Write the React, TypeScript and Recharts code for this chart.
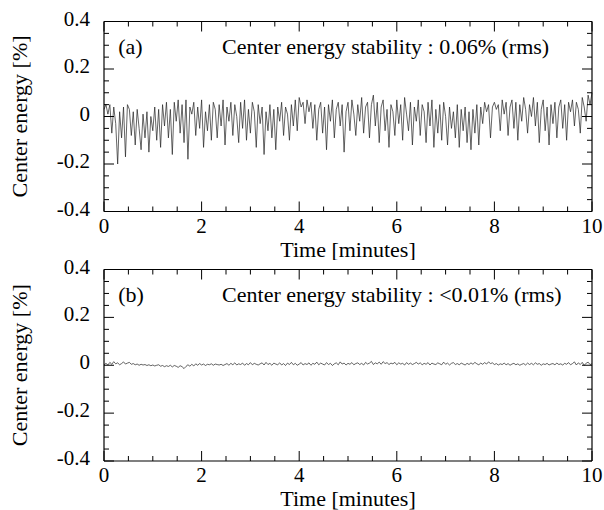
import { LineChart, Line, XAxis, YAxis, ReferenceDot } from "recharts";

const FONT = "'Liberation Serif', 'Times New Roman', serif";
const INK = "#000";
const TRACE = "#222";

// samples every 0.04 min (2.4 s), 0 .. 10 min
const STEP = 0.04;

const TOP_VALUES = [
  0.03, 0.05, 0.01, 0.05, -0.07, 0.04, -0.03, -0.2, 0.02, -0.09,
  0.04, -0.17, 0.05, 0.03, -0.08, 0.02, -0.12, 0.03, -0.05, -0.14,
  0.01, -0.09, 0.02, -0.15, 0.0, -0.06, 0.04, -0.1, 0.03, -0.13,
  0.05, -0.04, 0.06, -0.09, 0.03, -0.16, 0.06, -0.02, 0.07, -0.07,
  0.05, -0.11, 0.07, -0.18, 0.04, 0.01, 0.06, -0.08, 0.04, -0.05,
  0.07, -0.13, 0.02, -0.06, 0.05, -0.1, 0.06, 0.03, -0.09, 0.05,
  -0.04, 0.07, -0.12, 0.04, -0.02, 0.06, -0.08, 0.05, 0.0, -0.11,
  0.06, -0.05, 0.07, -0.1, 0.03, -0.07, 0.06, 0.02, -0.13, 0.05,
  -0.03, 0.04, -0.16, 0.02, -0.06, 0.05, -0.09, 0.03, -0.14, 0.04,
  -0.02, 0.06, -0.08, 0.04, 0.01, -0.1, 0.05, -0.04, 0.07, -0.06,
  0.08, 0.04, 0.06, -0.03, 0.07, 0.02, 0.06, -0.05, 0.05, -0.1,
  0.03, 0.06, -0.07, 0.04, -0.14, 0.05, -0.02, 0.07, -0.09, 0.03,
  0.06, -0.04, 0.05, -0.15, 0.02, 0.06, -0.06, 0.07, 0.01, -0.08,
  0.05, -0.02, 0.08, -0.07, 0.04, 0.06, -0.09, 0.05, 0.09, -0.04,
  0.06, -0.11, 0.04, 0.07, -0.06, 0.03, -0.13, 0.05, 0.02, -0.08,
  0.07, -0.03, 0.05, -0.1, 0.08, 0.01, -0.06, 0.06, -0.12, 0.04,
  -0.02, 0.07, -0.08, 0.05, 0.02, -0.11, 0.06, -0.04, 0.07, -0.13,
  0.03, -0.07, 0.05, -0.1, 0.06, 0.0, -0.12, 0.04, -0.05, 0.02,
  -0.09, 0.05, -0.13, 0.03, -0.06, 0.04, -0.11, 0.02, -0.14, 0.03,
  -0.07, 0.05, -0.12, 0.04, -0.03, 0.06, 0.02, 0.05, -0.09, 0.04,
  0.06, 0.03, 0.05, -0.06, 0.07, 0.01, 0.06, -0.08, 0.04, 0.07,
  -0.05, 0.06, -0.1, 0.05, -0.02, 0.08, 0.03, -0.07, 0.05, 0.0,
  0.08, -0.04, 0.06, -0.11, 0.03, 0.07, -0.06, 0.04, -0.12, 0.05,
  -0.03, 0.06, -0.09, 0.04, 0.07, -0.05, 0.05, -0.1, 0.06, 0.02,
  0.07, -0.04, 0.06, 0.03, -0.07, 0.08, 0.04, -0.02, 0.09, 0.05, 0.1,
];

const BOTTOM_VALUES = [
  0.002, 0.008, 0.001, 0.012, 0.004, 0.015, 0.006, 0.01, 0.002, 0.007,
  0.014, 0.005, 0.009, 0.012, 0.004, 0.007, 0.002, 0.005, 0.0, 0.004,
  0.001, 0.003, -0.001, 0.002, -0.002, 0.001, -0.003, 0.0, 0.002, -0.004,
  -0.001, -0.006, -0.002, -0.005, 0.0, -0.007, -0.001, -0.004, -0.009, -0.002,
  -0.006, -0.014, -0.005, 0.002, -0.004, 0.004, -0.003, 0.006, 0.0, 0.007,
  0.001, 0.005, -0.001, 0.004, 0.002, 0.006, 0.0, 0.005, 0.003, 0.001,
  0.004, -0.001, 0.003, 0.007, 0.0, 0.008, 0.002, 0.01, 0.001, 0.006,
  0.003, 0.009, 0.0, 0.007, 0.002, 0.011, 0.002, 0.008, 0.004, 0.001,
  0.006, 0.01, 0.001, 0.012, 0.003, 0.008, 0.0, 0.009, 0.005, 0.002,
  0.01, 0.001, 0.007, -0.001, 0.009, 0.003, 0.012, 0.002, 0.008, 0.0,
  0.005, 0.011, 0.001, 0.007, 0.003, 0.01, 0.0, 0.008, 0.004, 0.013,
  0.002, 0.009, 0.005, 0.001, 0.011, 0.003, 0.008, -0.001, 0.006, 0.01,
  0.002, 0.014, 0.005, 0.009, 0.001, 0.008, 0.004, 0.011, 0.002, 0.007,
  0.01, 0.003, 0.008, 0.001, 0.012, 0.005, 0.009, 0.016, 0.003, 0.01,
  0.006, 0.013, 0.004, 0.015, 0.007, 0.011, 0.003, 0.009, 0.006, 0.012,
  0.002, 0.01, 0.005, 0.008, 0.001, 0.011, 0.004, 0.009, 0.003, 0.007,
  0.012, 0.005, 0.01, 0.002, 0.008, 0.004, 0.011, 0.001, 0.009, 0.005,
  0.003, 0.01, 0.006, 0.002, 0.013, 0.004, 0.009, 0.001, 0.008, 0.011,
  0.003, 0.007, 0.002, 0.009, 0.005, 0.001, 0.008, 0.003, 0.01, 0.004,
  0.012, 0.006, 0.002, 0.009, 0.004, 0.011, 0.005, 0.014, 0.007, 0.01,
  0.003, 0.007, 0.001, 0.006, 0.003, 0.009, 0.002, 0.007, 0.0, 0.005,
  0.008, 0.002, 0.006, 0.0, 0.004, 0.007, 0.001, 0.009, 0.003, 0.008,
  0.002, 0.01, 0.004, 0.007, 0.0, 0.006, 0.003, 0.008, 0.001, 0.005,
  0.007, 0.002, 0.009, 0.003, 0.006, 0.001, 0.008, 0.004, 0.011, 0.002,
  0.007, 0.014, 0.001, 0.01, 0.003, 0.012, 0.0, 0.008, 0.013, 0.003, 0.006,
];

const X_TICKS = [0, 0.5, 1, 1.5, 2, 2.5, 3, 3.5, 4, 4.5, 5, 5.5, 6, 6.5, 7, 7.5, 8, 8.5, 9, 9.5, 10];
const X_LABELS = [0, 2, 4, 6, 8, 10];
const Y_TICKS = [
  -0.4, -0.35, -0.3, -0.25, -0.2, -0.15, -0.1, -0.05, 0,
  0.05, 0.1, 0.15, 0.2, 0.25, 0.3, 0.35, 0.4,
];
const Y_LABELS = [-0.4, -0.2, 0, 0.2, 0.4];

const X_TITLE = "Time [minutes]";
const Y_TITLE = "Center energy [%]";
const TAGS = ["(a)", "(b)"];
const NOTES = [
  "Center energy stability : 0.06% (rms)",
  "Center energy stability : <0.01% (rms)",
];

const toRows = (values: number[]) => values.map((v, i) => ({ t: +(i * STEP).toFixed(2), v }));

const textStyle = { fontFamily: FONT, fontSize: 22, fill: INK };
const tickStyle = { fontFamily: FONT, fontSize: 21, fill: INK };

function isLabel(list: number[], v: number) {
  return list.some((l) => Math.abs(l - v) < 1e-9);
}

function XTick(props: any) {
  const { x, y, payload, side } = props;
  const major = isLabel(X_LABELS, payload.value);
  const len = major ? 10 : 5;
  const dir = side === "bottom" ? -1 : 1;
  return (
    <g>
      <line x1={x} x2={x} y1={y} y2={y + dir * len} stroke={INK} strokeWidth={1} />
      {side === "bottom" && major && (
        <text x={x} y={y + 21} textAnchor="middle" style={tickStyle}>
          {payload.value}
        </text>
      )}
    </g>
  );
}

function YTick(props: any) {
  const { x, y, payload, side } = props;
  const major = isLabel(Y_LABELS, payload.value);
  const len = major ? 10 : 5;
  const dir = side === "left" ? 1 : -1;
  return (
    <g>
      <line x1={x} x2={x + dir * len} y1={y} y2={y} stroke={INK} strokeWidth={1} />
      {side === "left" && major && (
        <text x={x - 14} y={y + 4} textAnchor="end" style={tickStyle}>
          {payload.value === 0 ? "0" : String(payload.value)}
        </text>
      )}
    </g>
  );
}

function Panel({ values, tag, note, topGap, bottomGap }: any) {
  const rows = toRows(values);
  return (
    <LineChart width={604} height={260} data={rows} margin={{ top: 0, right: 0, bottom: 0, left: 0 }}>
      <XAxis
        dataKey="t"
        type="number"
        domain={[0, 10]}
        ticks={X_TICKS}
        interval={0}
        height={bottomGap}
        tickSize={0}
        tickMargin={0}
        tickLine={false}
        axisLine={{ stroke: INK, strokeWidth: 1.2 }}
        tick={(p: any) => <XTick {...p} side="bottom" />}
        label={(p: any) => {
          const vb = p.viewBox || { x: 104, y: 211, width: 488 };
          return (
            <text x={vb.x + vb.width / 2} y={vb.y + 45} textAnchor="middle" style={textStyle}>
              {X_TITLE}
            </text>
          );
        }}
      />
      <XAxis
        xAxisId="top"
        orientation="top"
        dataKey="t"
        type="number"
        domain={[0, 10]}
        ticks={X_TICKS}
        interval={0}
        height={topGap}
        tickSize={0}
        tickMargin={0}
        tickLine={false}
        axisLine={{ stroke: INK, strokeWidth: 1.2 }}
        tick={(p: any) => <XTick {...p} side="top" />}
      />
      <YAxis
        type="number"
        domain={[-0.4, 0.4]}
        ticks={Y_TICKS}
        interval={0}
        width={104}
        tickSize={0}
        tickMargin={0}
        tickLine={false}
        allowDataOverflow
        axisLine={{ stroke: INK, strokeWidth: 1.2 }}
        tick={(p: any) => <YTick {...p} side="left" />}
        label={(p: any) => {
          const vb = p.viewBox || { x: 0, y: 21, height: 190 };
          const cx = vb.x + 27;
          const cy = vb.y + vb.height / 2;
          return (
            <text x={cx} y={cy} textAnchor="middle" transform={`rotate(-90, ${cx}, ${cy})`} style={textStyle}>
              {Y_TITLE}
            </text>
          );
        }}
      />
      <YAxis
        yAxisId="right"
        orientation="right"
        type="number"
        domain={[-0.4, 0.4]}
        ticks={Y_TICKS}
        interval={0}
        width={12}
        tickSize={0}
        tickMargin={0}
        tickLine={false}
        allowDataOverflow
        axisLine={{ stroke: INK, strokeWidth: 1.2 }}
        tick={(p: any) => <YTick {...p} side="right" />}
      />
      <ReferenceDot
        x={0.29}
        y={0.265}
        r={0}
        fill="none"
        stroke="none"
        label={(p: any) => (
          <text x={p.viewBox.x} y={p.viewBox.y} style={textStyle}>
            {tag}
          </text>
        )}
      />
      <ReferenceDot
        x={2.42}
        y={0.265}
        r={0}
        fill="none"
        stroke="none"
        label={(p: any) => (
          <text x={p.viewBox.x} y={p.viewBox.y} style={textStyle}>
            {note}
          </text>
        )}
      />
      <Line
        dataKey="v"
        type="linear"
        dot={false}
        stroke={TRACE}
        strokeWidth={0.7}
        isAnimationActive={false}
      />
    </LineChart>
  );
}

export default function App() {
  return (
    <div style={{ position: "absolute", left: 0, top: 0, width: 604, height: 510, background: "#fff" }}>
      <div style={{ position: "absolute", left: 0, top: 0 }}>
        <Panel values={TOP_VALUES} tag={TAGS[0]} note={NOTES[0]} topGap={21.5} bottomGap={48.5} />
      </div>
      <div style={{ position: "absolute", left: 0, top: 250 }}>
        <Panel values={BOTTOM_VALUES} tag={TAGS[1]} note={NOTES[1]} topGap={19.5} bottomGap={49} />
      </div>
    </div>
  );
}
